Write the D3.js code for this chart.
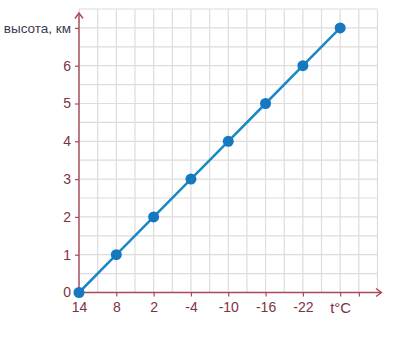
<!DOCTYPE html>
<html>
<head>
<meta charset="utf-8">
<script src="https://cdn.jsdelivr.net/npm/d3@7"></script>
<style>
	body { margin: 0; background: #fff; }
	svg text { font-family: "Liberation Sans", Arial, sans-serif; }
</style>
</head>
<body>
<div id="chart"></div>
<script>

// data
var temps   = [14, 8, 2, -4, -10, -16, -22, -28];
var heights = [0, 1, 2, 3, 4, 5, 6, 7];
var xTickValues = [14, 8, 2, -4, -10, -16, -22, -28, -31];
var xTickLabels = ["14", "8", "2", "-4", "-10", "-16", "-22", "t°C", ""];
var yTickValues = [0, 1, 2, 3, 4, 5, 6, 7];
var yTickLabels = ["0", "1", "2", "3", "4", "5", "6", "высота, км"];


var width  = 405,
    height = 339;

var x = d3.scaleLinear().domain([14, -34]).range([79, 377.5]);
var y = d3.scaleLinear().domain([0, 7.5]).range([292.5, 9]);

var svg = d3.select("#chart").append("svg")
	.attr("width", width)
	.attr("height", height);

var axisColor = "#a84858",
    textColor = "#7a3444";

// grid every half step
var gridX = d3.range(14, -34.1, -3),
    gridY = d3.range(0, 7.51, 0.5);

svg.append("g").selectAll("line")
	.data(gridX)
	.enter()
	.append("line")
	.attr("x1", function(d) { return x(d); })
	.attr("x2", function(d) { return x(d); })
	.attr("y1", y(7.5))
	.attr("y2", y(0))
	.attr("stroke", "#dedcdc")
	.attr("stroke-width", 1.2);

svg.append("g").selectAll("line")
	.data(gridY)
	.enter()
	.append("line")
	.attr("x1", x(14))
	.attr("x2", x(-34))
	.attr("y1", function(d) { return y(d); })
	.attr("y2", function(d) { return y(d); })
	.attr("stroke", "#dedcdc")
	.attr("stroke-width", 1.2);

// axes
var xAxis = d3.axisBottom(x)
	.tickValues(xTickValues)
	.tickSize(4)
	.tickPadding(6)
	.tickFormat(function(d, i) { return xTickLabels[i]; });

var yAxis = d3.axisLeft(y)
	.tickValues(yTickValues)
	.tickSize(4)
	.tickPadding(4)
	.tickFormat(function(d, i) { return yTickLabels[i]; });

var gx = svg.append("g")
	.attr("transform", "translate(0," + y(0) + ")")
	.call(xAxis);

var gy = svg.append("g")
	.attr("transform", "translate(" + x(14) + ",0)")
	.call(yAxis);

gx.select(".domain").remove();
gy.select(".domain").remove();

[gx, gy].forEach(function(g) {
	g.selectAll(".tick line").attr("stroke", axisColor).attr("stroke-width", 1.2);
	g.selectAll(".tick text").attr("fill", textColor).style("font-size", "14px");
});

gx.selectAll(".tick text")
	.filter(function(d) { return d == -28; })
	.style("font-size", "15px");

gy.selectAll(".tick text")
	.filter(function(d) { return d == 7; })
	.attr("fill", "#3a3a52")
	.style("font-size", "13.5px");

// axis lines with arrows
svg.append("line")
	.attr("x1", x(14)).attr("y1", y(0))
	.attr("x2", 381).attr("y2", y(0))
	.attr("stroke", axisColor).attr("stroke-width", 1.4);
svg.append("path")
	.attr("d", "M376,288.5 L381.5,292.5 L376,296.5")
	.attr("fill", "none").attr("stroke", axisColor).attr("stroke-width", 1.4);

svg.append("line")
	.attr("x1", x(14)).attr("y1", y(0))
	.attr("x2", x(14)).attr("y2", 13)
	.attr("stroke", axisColor).attr("stroke-width", 1.4);
svg.append("path")
	.attr("d", "M" + (x(14) - 4) + ",18.5 L" + x(14) + ",13 L" + (x(14) + 4) + ",18.5")
	.attr("fill", "none").attr("stroke", axisColor).attr("stroke-width", 1.4);

// series
var points = temps.map(function(t, i) { return { t: t, h: heights[i] }; });

var line = d3.line()
	.x(function(d) { return x(d.t); })
	.y(function(d) { return y(d.h); });

svg.append("path")
	.datum(points)
	.attr("d", line)
	.attr("fill", "none")
	.attr("stroke", "#1a88c4")
	.attr("stroke-width", 2.5);

svg.append("g").selectAll("circle")
	.data(points)
	.enter()
	.append("circle")
	.attr("cx", function(d) { return x(d.t); })
	.attr("cy", function(d) { return y(d.h); })
	.attr("r", 5.5)
	.attr("fill", "#1679c0");

</script>
</body>
</html>
